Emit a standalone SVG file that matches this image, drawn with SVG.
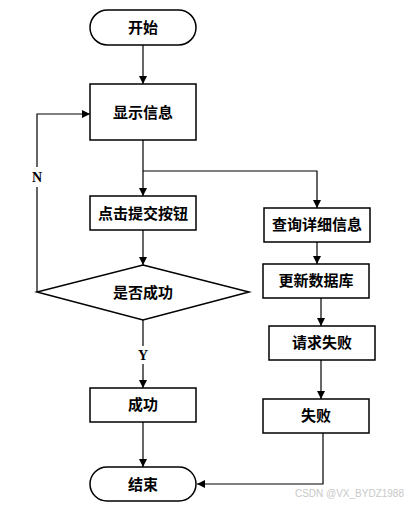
<svg xmlns="http://www.w3.org/2000/svg" width="408" height="511" viewBox="0 0 408 511">
<defs>
<marker id="arr" markerWidth="10" markerHeight="10" refX="9" refY="5" orient="auto" markerUnits="userSpaceOnUse">
<path d="M1,1 L9,5 L1,9 Z" fill="#000"/>
</marker>
<style>
.box{fill:#fff;stroke:#000;stroke-width:1.5}
.lbl{font-family:"Liberation Serif","Noto Sans CJK SC",serif;font-size:15px;font-weight:bold;text-anchor:middle;dominant-baseline:central;fill:#000}
.yn{font-family:"Liberation Serif",serif;font-size:14px;font-weight:bold;text-anchor:middle;dominant-baseline:central;fill:#000}
.ln{fill:none;stroke:#000;stroke-width:1.2}
</style>
</defs>
<rect width="408" height="511" fill="#fff"/>
<g id="connectors">
<line class="ln" x1="143" y1="45" x2="143" y2="84" marker-end="url(#arr)"/>
<polyline class="ln" points="143,140 143,196" marker-end="url(#arr)"/>
<polyline class="ln" points="143,171 317,171 317,208" marker-end="url(#arr)"/>
<line class="ln" x1="143" y1="230" x2="143" y2="265" marker-end="url(#arr)"/>
<polyline class="ln" points="37,292 37,114 90,114" marker-end="url(#arr)"/>
<line class="ln" x1="143" y1="320" x2="143" y2="346"/>
<line class="ln" x1="143" y1="364" x2="143" y2="388" marker-end="url(#arr)"/>
<line class="ln" x1="143" y1="422" x2="143" y2="467" marker-end="url(#arr)"/>
<line class="ln" x1="317" y1="242" x2="317" y2="264" marker-end="url(#arr)"/>
<line class="ln" x1="321" y1="298" x2="321" y2="326" marker-end="url(#arr)"/>
<line class="ln" x1="321" y1="360" x2="321" y2="399" marker-end="url(#arr)"/>
<polyline class="ln" points="323,433 323,484 197,484" marker-end="url(#arr)"/>
<rect x="30" y="167" width="14" height="20" fill="#fff"/>
<text class="yn" x="37" y="177">N</text>
<text class="yn" x="143" y="355">Y</text>
</g>
<g id="start"><rect class="box" x="90" y="10" width="106" height="35" rx="17.5" ry="17.5"/><text class="lbl" x="143" y="28">开始</text></g>
<g id="show"><rect class="box" x="90" y="84" width="106" height="56"/><text class="lbl" x="143" y="113">显示信息</text></g>
<g id="click"><rect class="box" x="90" y="196" width="106" height="34"/><text class="lbl" x="143" y="214">点击提交按钮</text></g>
<g id="query"><rect class="box" x="264" y="208" width="106" height="34"/><text class="lbl" x="317" y="225">查询详细信息</text></g>
<g id="decide"><polygon class="box" points="143,265 249,292 143,320 37,292"/><text class="lbl" x="143" y="293">是否成功</text></g>
<g id="update"><rect class="box" x="263" y="264" width="106" height="34"/><text class="lbl" x="316" y="281">更新数据库</text></g>
<g id="reqfail"><rect class="box" x="269" y="326" width="106" height="34"/><text class="lbl" x="322" y="343">请求失败</text></g>
<g id="success"><rect class="box" x="90" y="388" width="106" height="34"/><text class="lbl" x="143" y="405">成功</text></g>
<g id="fail"><rect class="box" x="263" y="399" width="106" height="34"/><text class="lbl" x="316" y="416">失败</text></g>
<g id="end"><rect class="box" x="90" y="467" width="106" height="34" rx="17" ry="17"/><text class="lbl" x="143" y="485">结束</text></g>
<text x="404" y="497" text-anchor="end" font-family="Liberation Sans,sans-serif" font-size="10" fill="#c8c8c8">CSDN @VX_BYDZ1988</text>
</svg>
